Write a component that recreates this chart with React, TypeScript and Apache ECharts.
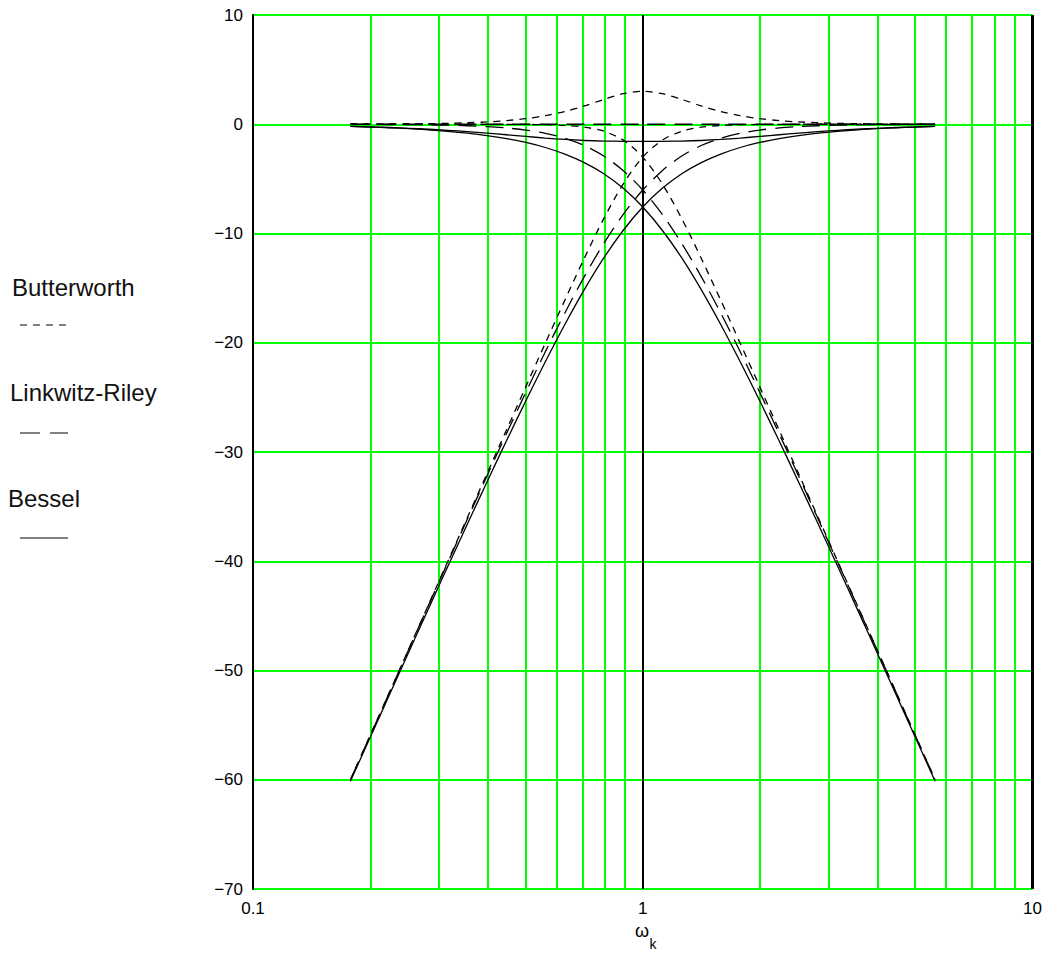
import React, { useEffect, useRef } from "react";
import * as echarts from "echarts";

// normalized frequency (log-spaced, 0.05 decade steps)
const omega = [
  0.1778, 0.1995, 0.2239, 0.2512, 0.2818, 0.3162, 0.3548, 0.3981, 0.4467, 0.5012,
  0.5623, 0.631, 0.7079, 0.7943, 0.8913, 1, 1.122, 1.2589, 1.4125, 1.5849,
  1.7783, 1.9953, 2.2387, 2.5119, 2.8184, 3.1623, 3.5481, 3.9811, 4.4668, 5.0119, 5.6234,
];

// Butterworth (dB)
const butterworthLow = [
  0, 0, 0, -0.0001, -0.0002, -0.0004, -0.0011, -0.0027, -0.0069, -0.0173,
  -0.0432, -0.1077, -0.2657, -0.639, -1.4554, -3.0103, -5.4554, -8.6389, -12.2658, -16.1077,
  -20.0432, -24.0172, -28.0069, -32.0027, -36.0011, -40.0004, -44.0002, -48.0001, -52.0, -56.0, -60.0,
];
const butterworthHigh = [
  -60.0, -56.0, -52.0, -48.0001, -44.0002, -40.0004, -36.0011, -32.0027, -28.0069, -24.0172,
  -20.0432, -16.1077, -12.2658, -8.6389, -5.4554, -3.0103, -1.4554, -0.639, -0.2657, -0.1077,
  -0.0432, -0.0173, -0.0069, -0.0027, -0.0011, -0.0004, -0.0002, -0.0001, 0, 0, 0,
];
const butterworthSum = [
  0.0087, 0.0137, 0.0217, 0.0344, 0.0544, 0.086, 0.1355, 0.2127, 0.3323, 0.5143,
  0.7847, 1.1701, 1.6806, 2.2719, 2.7935, 3.0103, 2.7935, 2.2719, 1.6806, 1.1701,
  0.7847, 0.5143, 0.3323, 0.2127, 0.1355, 0.086, 0.0544, 0.0344, 0.0217, 0.0137, 0.0087,
];

// Linkwitz-Riley (dB)
const linkwitzLow = [
  -0.0087, -0.0138, -0.0218, -0.0345, -0.0546, -0.0864, -0.1366, -0.2155, -0.3391, -0.5314,
  -0.8279, -1.2778, -1.9464, -2.9108, -4.2489, -6.0206, -8.2489, -10.9108, -13.9464, -17.2778,
  -20.8279, -24.5315, -28.3392, -32.2154, -36.1366, -40.0864, -44.0546, -48.0344, -52.0218, -56.0137, -60.0087,
];
const linkwitzHigh = [
  -60.0087, -56.0137, -52.0218, -48.0344, -44.0546, -40.0864, -36.1366, -32.2154, -28.3392, -24.5315,
  -20.8279, -17.2778, -13.9464, -10.9108, -8.2489, -6.0206, -4.2489, -2.9108, -1.9464, -1.2778,
  -0.8279, -0.5314, -0.3391, -0.2155, -0.1366, -0.0864, -0.0546, -0.0345, -0.0218, -0.0138, -0.0087,
];
const linkwitzSum = [
  0, 0, 0, 0, 0, 0, 0, 0, 0, 0, 0, 0, 0, 0, 0, 0, 0, 0, 0, 0, 0, 0, 0, 0, 0, 0, 0, 0, 0, 0, 0,
];

// Bessel (dB)
const besselLow = [
  -0.202, -0.2546, -0.321, -0.405, -0.5112, -0.6458, -0.8166, -1.034, -1.3118, -1.6682,
  -2.1281, -2.7259, -3.5075, -4.5319, -5.8673, -7.5782, -9.7036, -12.2389, -15.1378, -18.3297,
  -21.7423, -25.3071, -29.0008, -32.7681, -36.5936, -40.4612, -44.36, -48.282, -52.2216, -56.1745, -60.1376,
];
const besselHigh = [
  -60.1376, -56.1745, -52.2216, -48.282, -44.36, -40.4612, -36.5936, -32.7681, -29.0008, -25.3071,
  -21.7423, -18.3297, -15.1378, -12.2389, -9.7036, -7.5782, -5.8673, -4.5319, -3.5075, -2.7259,
  -2.1281, -1.6682, -1.3118, -1.034, -0.8166, -0.6458, -0.5112, -0.405, -0.321, -0.2546, -0.202,
];
const besselSum = [
  -0.1932, -0.2407, -0.2989, -0.3699, -0.4556, -0.5574, -0.6764, -0.8119, -0.9605, -1.1148,
  -1.2645, -1.3931, -1.4865, -1.5389, -1.5586, -1.5622, -1.5586, -1.5389, -1.4865, -1.3931,
  -1.2645, -1.1148, -0.9605, -0.8119, -0.6764, -0.5574, -0.4556, -0.3699, -0.2989, -0.2407, -0.1932,
];

const minorGridX = [0.2, 0.3, 0.4, 0.5, 0.6, 0.7, 0.8, 0.9, 2, 3, 4, 5, 6, 7, 8, 9];
const legendNames = ["Butterworth", "Linkwitz-Riley", "Bessel"];

const FONT = "'Liberation Sans', Arial, sans-serif";
const BW_DASH = [7, 6];
const LR_DASH = [18, 9];

export default function App() {
  const ref = useRef<HTMLDivElement>(null);

  useEffect(() => {
    document.body.style.margin = "0";
    const chart = echarts.init(ref.current!, null, { renderer: "svg" });
    const pair = (ys: number[]) => omega.map((x, i) => [x, ys[i]]);
    const curve = (name: string, ys: number[], dash: any) => ({
      type: "line",
      name,
      data: pair(ys),
      showSymbol: false,
      symbol: "none",
      smooth: 0.3,
      silent: true,
      z: 5,
      lineStyle: { color: "#000", width: 1.3, type: dash },
    });
    const vline = (xs: number[], color: string, width: number, z: number) => ({
      type: "line",
      data: [],
      silent: true,
      z,
      markLine: {
        silent: true,
        animation: false,
        symbol: ["none", "none"],
        label: { show: false },
        lineStyle: { color, width, type: "solid" },
        emphasis: { disabled: true },
        data: xs.map((x) => ({ xAxis: x })),
      },
    });

    chart.setOption({
      animation: false,
      backgroundColor: "#fff",
      grid: { left: 253, right: 12, top: 15, bottom: 68, containLabel: false },
      xAxis: {
        type: "log",
        logBase: 10,
        min: 0.1,
        max: 10,
        axisLine: { show: false },
        axisTick: { show: false },
        splitLine: { show: false },
        axisLabel: { color: "#000", fontSize: 17, fontFamily: FONT, margin: 11 },
      },
      yAxis: {
        type: "value",
        min: -70,
        max: 10,
        interval: 10,
        axisLine: { show: true, lineStyle: { color: "#000", width: 2 } },
        axisTick: { show: false },
        splitLine: { show: true, lineStyle: { color: "#00ff00", width: 2 } },
        axisLabel: {
          color: "#000",
          fontSize: 17,
          fontFamily: FONT,
          margin: 10,
          formatter: (v: number) => (v < 0 ? "\u2212" + Math.abs(v) : String(v)),
        },
      },
      series: [
        vline(minorGridX, "#00ff00", 2, 1),
        vline([1], "#000", 2, 2),
        vline([10], "#000", 3, 2),
        curve("Butterworth LP", butterworthLow, BW_DASH),
        curve("Butterworth HP", butterworthHigh, BW_DASH),
        curve("Butterworth Sum", butterworthSum, BW_DASH),
        curve("Linkwitz-Riley LP", linkwitzLow, LR_DASH),
        curve("Linkwitz-Riley HP", linkwitzHigh, LR_DASH),
        curve("Linkwitz-Riley Sum", linkwitzSum, LR_DASH),
        curve("Bessel LP", besselLow, "solid"),
        curve("Bessel HP", besselHigh, "solid"),
        curve("Bessel Sum", besselSum, "solid"),
      ],
      graphic: [
        { type: "text", left: 12, top: 275, style: { text: legendNames[0], font: `24px ${FONT}`, fill: "#111" } },
        { type: "line", shape: { x1: 20, y1: 325, x2: 68, y2: 325 }, style: { stroke: "#000", lineWidth: 1.2, lineDash: BW_DASH } },
        { type: "text", left: 10, top: 380, style: { text: legendNames[1], font: `24px ${FONT}`, fill: "#111" } },
        { type: "line", shape: { x1: 20, y1: 433, x2: 68, y2: 433 }, style: { stroke: "#000", lineWidth: 1.2, lineDash: [20, 10] } },
        { type: "text", left: 8, top: 486, style: { text: legendNames[2], font: `24px ${FONT}`, fill: "#111" } },
        { type: "line", shape: { x1: 20, y1: 538, x2: 68, y2: 538 }, style: { stroke: "#000", lineWidth: 1.2 } },
        { type: "text", x: 642, y: 931, style: { text: "\u03c9", font: `18px ${FONT}`, fill: "#000", align: "center", verticalAlign: "middle" } },
        { type: "text", x: 653, y: 944, style: { text: "k", font: `14px ${FONT}`, fill: "#000", align: "center", verticalAlign: "middle" } },
      ],
    });

    return () => chart.dispose();
  }, []);

  return <div ref={ref} style={{ width: 1045, height: 957 }} />;
}
